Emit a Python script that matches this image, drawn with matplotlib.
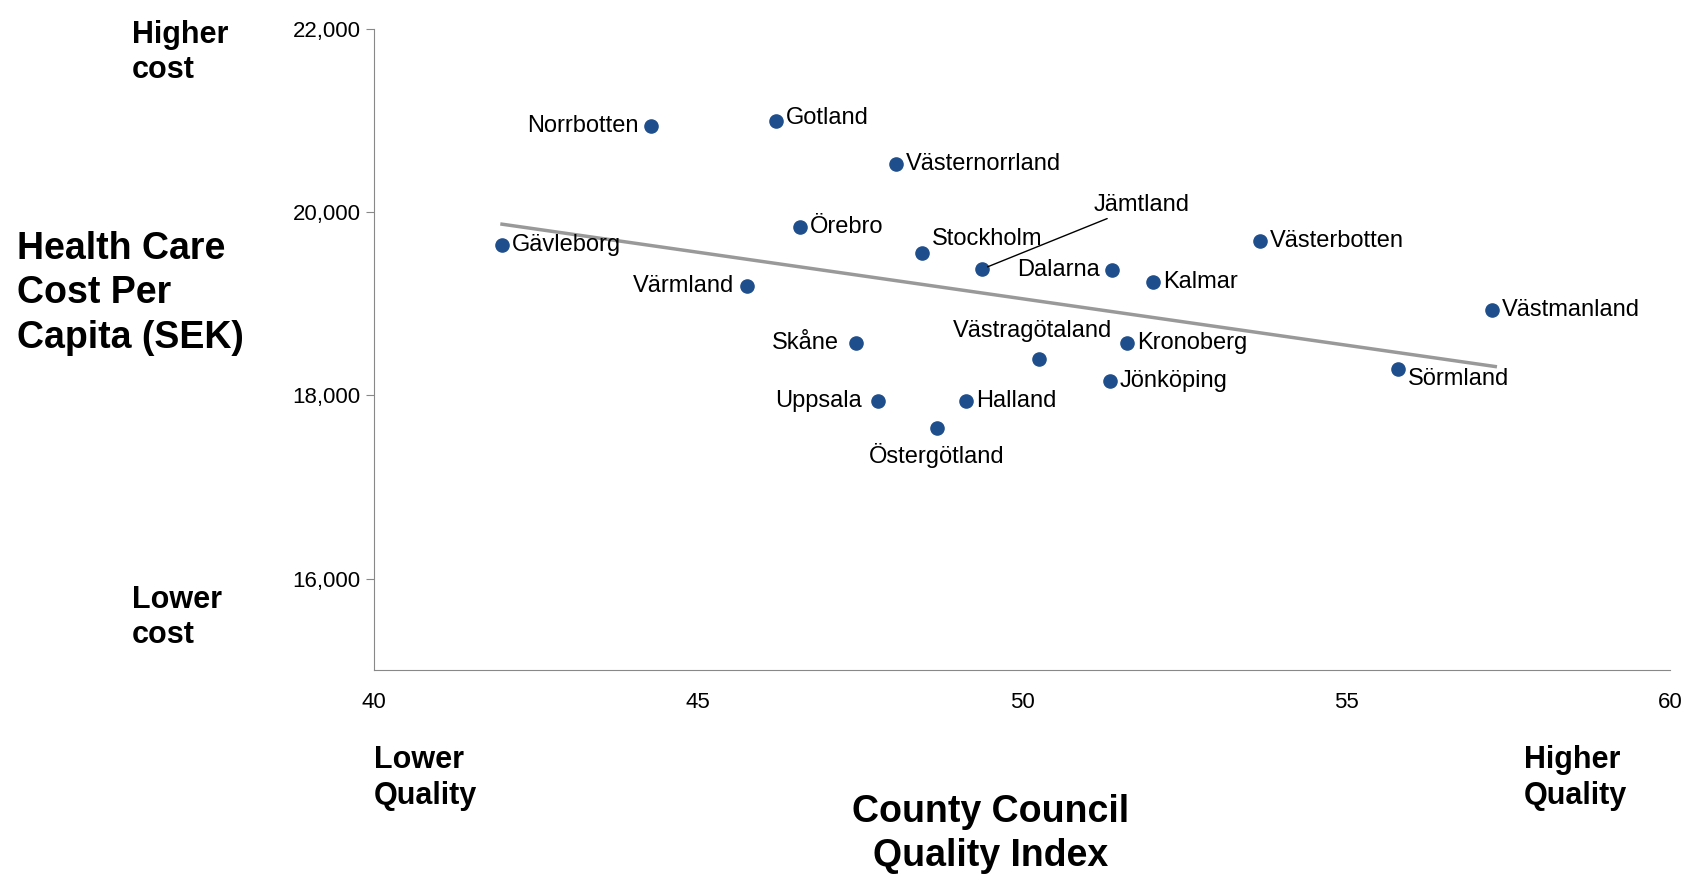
import matplotlib.pyplot as plt
import numpy as np

plt.rcParams['font.family'] = ['Liberation Sans', 'DejaVu Sans']

counties = ['Norrbotten', 'Gotland', 'Västernorrland', 'Örebro', 'Gävleborg', 'Stockholm',
            'Jämtland', 'Dalarna', 'Västerbotten', 'Kalmar', 'Värmland', 'Västmanland',
            'Skåne', 'Västragötaland', 'Kronoberg', 'Sörmland', 'Jönköping', 'Uppsala',
            'Halland', 'Östergötland']
quality = [44.28, 46.21, 48.06, 46.58, 41.98, 48.46, 49.39, 51.39, 53.67, 52.02,
           45.76, 57.25, 47.44, 50.27, 51.62, 55.80, 51.36, 47.78, 49.14, 48.69]
cost = [20945, 20992, 20530, 19842, 19640, 19557, 19380, 19368, 19688, 19237,
        19190, 18929, 18573, 18396, 18573, 18288, 18158, 17933, 17933, 17648]

# label placement: (dx, dy) in points, horizontal alignment
place = {
  'Norrbotten': (-9, 0, 'right'), 'Gotland': (7, 2, 'left'), 'Västernorrland': (7, 0, 'left'),
  'Örebro': (7, 0, 'left'), 'Gävleborg': (7, 0, 'left'), 'Stockholm': (7, 10, 'left'),
  'Dalarna': (-9, 0, 'right'), 'Västerbotten': (7, 0, 'left'), 'Kalmar': (7, 0, 'left'),
  'Värmland': (-9, 0, 'right'), 'Västmanland': (7, 0, 'left'), 'Skåne': (-12, 0, 'right'),
  'Västragötaland': (-5, 20, 'center'), 'Kronoberg': (7, 0, 'left'), 'Sörmland': (7, -7, 'left'),
  'Jönköping': (7, 0, 'left'), 'Uppsala': (-12, 0, 'right'), 'Halland': (7, 0, 'left'),
  'Östergötland': (0, -20, 'center'),
}

fig = plt.figure(figsize=(16.93, 8.76), dpi=100)
ax = fig.add_axes([0.2207, 0.235, 0.7659, 0.732])
col = '#1f4e8c'

fit = np.polyfit(quality, cost, 1)
xs = np.array([min(quality), 57.3])
ax.plot(xs, np.polyval(fit, xs) - 20, color='#999999', lw=2.5, zorder=1)
ax.scatter(quality, cost, s=90, color=col, zorder=3)

for name, x, y in zip(counties, quality, cost):
  if name == 'Jämtland':
    ax.annotate(name, (x, y), xytext=(51.1, 20080), fontsize=17, ha='left', va='center',
                arrowprops=dict(arrowstyle='-', color='black', lw=1, shrinkA=0, shrinkB=4))
    continue
  dx, dy, ha = place[name]
  ax.annotate(name, (x, y), xytext=(dx, dy), textcoords='offset points',
              fontsize=17, ha=ha, va='center')

ax.set_xlim(40, 60)
ax.set_ylim(15000, 22000)
ax.set_xticks([40, 45, 50, 55, 60])
ax.set_yticks([16000, 18000, 20000, 22000])
ax.set_yticklabels(['16,000', '18,000', '20,000', '22,000'])
ax.tick_params(axis='x', length=0, pad=16, labelsize=16)
ax.tick_params(axis='y', direction='out', length=6, color='#888888', labelsize=16)
for s in ['top', 'right']:
  ax.spines[s].set_visible(False)
for s in ['left', 'bottom']:
  ax.spines[s].set_color('#888888')

bold = dict(fontweight='bold', fontsize=22)
fig.text(0.078, 0.94, 'Higher\ncost', ha='left', va='center', linespacing=1.25, **bold)
fig.text(0.078, 0.295, 'Lower\ncost', ha='left', va='center', linespacing=1.25, **bold)
fig.text(0.01, 0.665, 'Health Care\nCost Per\nCapita (SEK)', ha='left', va='center',
         fontweight='bold', fontsize=27, linespacing=1.3)
fig.text(0.2207, 0.112, 'Lower\nQuality', ha='left', va='center', linespacing=1.25, **bold)
fig.text(0.90, 0.112, 'Higher\nQuality', ha='left', va='center', linespacing=1.25, **bold)
fig.text(0.585, 0.048, 'County Council\nQuality Index', ha='center', va='center',
         fontweight='bold', fontsize=27, linespacing=1.3)

fig.savefig('out.png', dpi=100)
